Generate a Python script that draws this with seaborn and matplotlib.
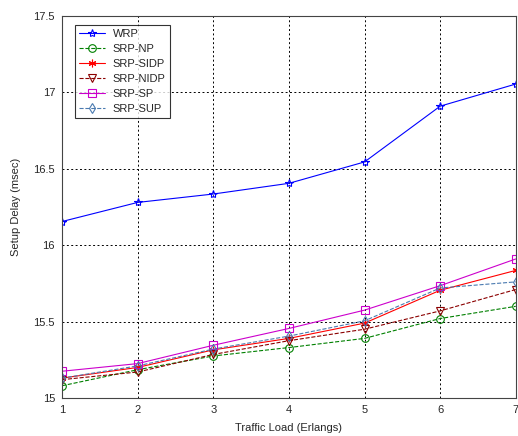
import numpy as np
import pandas as pd
import matplotlib
matplotlib.use("Agg")
import matplotlib.pyplot as plt
import seaborn as sns

# Veriler
traffic_load = [1, 2, 3, 4, 5, 6, 7]
wrp = [16.155, 16.28, 16.335, 16.405, 16.545, 16.91, 17.055]
srp_np = [15.08, 15.185, 15.275, 15.33, 15.39, 15.52, 15.60]
srp_sidp = [15.13, 15.20, 15.315, 15.39, 15.49, 15.705, 15.835]
srp_nidp = [15.12, 15.17, 15.285, 15.375, 15.45, 15.57, 15.71]
srp_sp = [15.175, 15.225, 15.345, 15.455, 15.575, 15.735, 15.91]
srp_sup = [15.13, 15.21, 15.32, 15.405, 15.505, 15.72, 15.76]

series_names = ["WRP", "SRP-NP", "SRP-SIDP", "SRP-NIDP", "SRP-SP", "SRP-SUP"]
series_values = [wrp, srp_np, srp_sidp, srp_nidp, srp_sp, srp_sup]

# Çizim stilleri (MATLAB görünümü)
styles = {
    "WRP": dict(color="#0000ff", ls="-", marker="*", mfc="none", ms=6),
    "SRP-NP": dict(color="#008000", ls="--", marker="o", mfc="none", ms=5.5),
    "SRP-SIDP": dict(color="#ff0000", ls="-", marker=(6, 2, 0), mfc="none", ms=5.5),
    "SRP-NIDP": dict(color="#8b0000", ls="--", marker="v", mfc="none", ms=5.5),
    "SRP-SP": dict(color="#cc00cc", ls="-", marker="s", mfc="none", ms=5.5),
    "SRP-SUP": dict(color="#4a7ab0", ls="--", marker="d", mfc="none", ms=5.5),
}


def build_frame():
    rows = []
    for name, vals in zip(series_names, series_values):
        for x, y in zip(traffic_load, vals):
            rows.append({"load": x, "delay": y, "scheme": name})
    return pd.DataFrame(rows)


def draw(df):
    sns.set_style("white")
    plt.rcParams["font.family"] = ["Liberation Sans", "DejaVu Sans"]

    fig = plt.figure(figsize=(5.18, 4.36), dpi=100)
    ax = fig.add_axes([0.1197, 0.0872, 0.876, 0.876])

    for name in series_names:
        st = styles[name]
        sub = df[df["scheme"] == name]
        sns.lineplot(data=sub, x="load", y="delay", ax=ax, color=st["color"],
                     linestyle=st["ls"], marker=st["marker"], markersize=st["ms"],
                     markerfacecolor=st["mfc"], markeredgecolor=st["color"],
                     markeredgewidth=0.8, linewidth=0.8, label=name)

    ax.set_xlim(1, 7)
    ax.set_ylim(15, 17.5)
    ax.set_xticks(traffic_load)
    ax.set_yticks([15, 15.5, 16, 16.5, 17, 17.5])
    ax.set_yticklabels(["15", "15.5", "16", "16.5", "17", "17.5"])
    ax.grid(True, color="black", linestyle=(0, (2, 2.5)), linewidth=0.7)
    ax.tick_params(direction="in", labelsize=8, length=4, color="black", pad=5)
    for sp in ax.spines.values():
        sp.set_color("#444444")
        sp.set_linewidth(0.8)

    ax.set_xlabel("Traffic Load (Erlangs)", fontsize=8, labelpad=6)
    ax.set_ylabel("Setup Delay (msec)", fontsize=8, labelpad=9)

    leg = ax.legend(loc="upper left", bbox_to_anchor=(0.028, 0.977), fontsize=8,
                    frameon=True, fancybox=False, edgecolor="black",
                    handlelength=2.3, handletextpad=0.7, borderpad=0.4,
                    labelspacing=0.44, borderaxespad=0)
    leg.get_frame().set_linewidth(0.8)

    fig.savefig("out.png", dpi=100)


def main():
    df = build_frame()
    draw(df)


if __name__ == "__main__":
    main()
